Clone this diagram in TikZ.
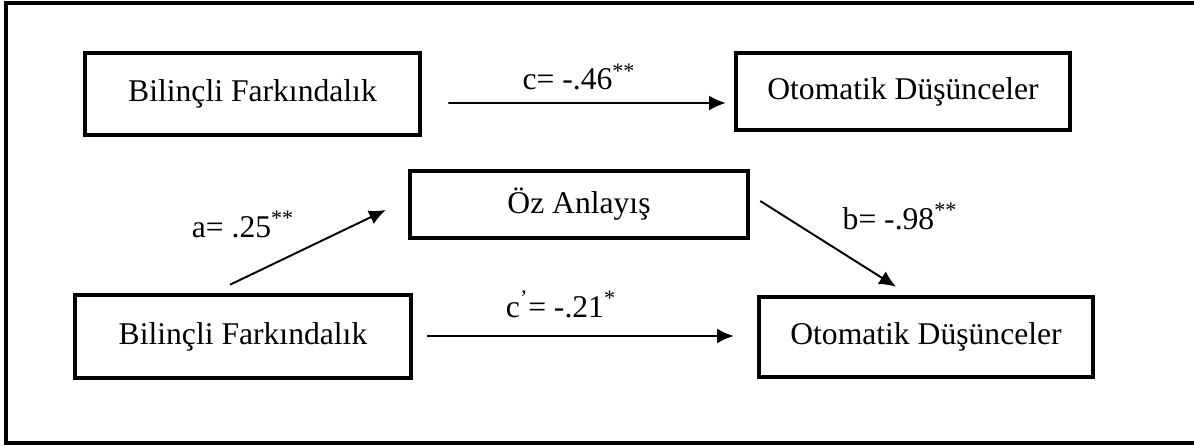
\documentclass[tikz,border=0pt]{standalone}
\usepackage{fontspec}
\setmainfont{Liberation Serif}
\usetikzlibrary{arrows.meta, calc}

\begin{document}
\begin{tikzpicture}[x = 0.02cm, y = -0.02cm]
\tikzstyle{BoxStyle}=[shape = rectangle,
                      draw,
                      line width = 2.6pt,
                      inner sep = 0pt,
                      font = \fontsize{18}{22}\selectfont]
\tikzstyle{PathStyle}=[line width = 1.1pt,
                       -{Latex[length = 9.5pt, width = 8.5pt]}]
\tikzstyle{LabelStyle}=[anchor = base,
                        inner sep = 0pt,
                        font = \fontsize{18}{22}\selectfont]
\useasboundingbox (0,0) rectangle (1194,446);
\draw[line width = 2.6pt] (1194,3) -- (6,3) -- (6,443) -- (1194,443);
% boxes
\node[BoxStyle, minimum width = 6.7cm, minimum height = 1.64cm] (bfTop) at (252.5,94) {Bilinçli Farkındalık};
\node[BoxStyle, minimum width = 6.68cm, minimum height = 1.54cm] (odTop) at (903,91.5) {Otomatik Düşünceler};
\node[BoxStyle, minimum width = 6.76cm, minimum height = 1.34cm] (oz) at (579,204.5) {Öz Anlayış};
\node[BoxStyle, minimum width = 6.72cm, minimum height = 1.66cm] (bfBot) at (243,336.5) {Bilinçli Farkındalık};
\node[BoxStyle, minimum width = 6.68cm, minimum height = 1.6cm] (odBot) at (926,337) {Otomatik Düşünceler};
% paths
\draw[PathStyle] ($(bfTop.east)+(26,9)$) -- ($(odTop.west)+(-8,11.5)$);
\draw[PathStyle] ($(bfBot.north)+(-13,-8)$) -- ($(oz.west)+(-22,5.5)$);
\draw[PathStyle] ($(oz.east)+(10,-3.5)$) -- ($(odBot.north)+(-30,-8)$);
\draw[PathStyle] ($(bfBot.east)+(14,-0.5)$) -- ($(odBot.west)+(-23,-1)$);
% labels
\node[LabelStyle] (cLabel) at (579,90) {c= -.46\textsuperscript{**}};
\node[LabelStyle] (aLabel) at (243,237) {a= .25\textsuperscript{**}};
\node[LabelStyle] (bLabel) at (900,229) {b= -.98\textsuperscript{**}};
\node[LabelStyle] (cpLabel) at (561,317) {c\textsuperscript{'}= -.21\textsuperscript{*}};
\end{tikzpicture}
\end{document}
